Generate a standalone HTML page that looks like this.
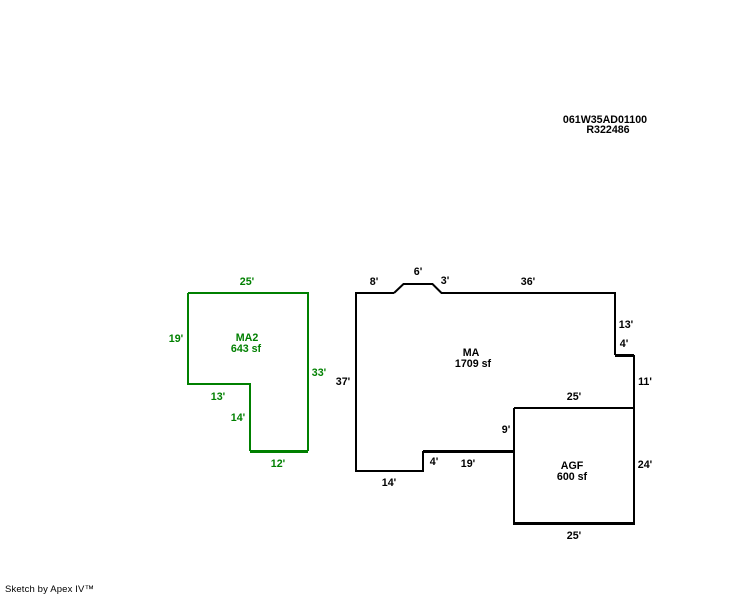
<!DOCTYPE html>
<html>
<head>
<meta charset="utf-8">
<style>
html,body{margin:0;padding:0;background:#fff;width:744px;height:595px;overflow:hidden}
svg{display:block}
text{font-family:"Liberation Sans",Arial,sans-serif;font-weight:bold;font-size:10.67px;text-anchor:middle}
.g text{fill:#008000}
.k text{fill:#000}
</style>
</head>
<body>
<svg width="744" height="595" viewBox="0 0 744 595" xmlns="http://www.w3.org/2000/svg">
<g fill="none" stroke="#008000" stroke-width="2" shape-rendering="crispEdges">
<path d="M188 293H308V451M250 451V384H188V293"/>
<path d="M250 451.5H308" stroke-width="3"/>
</g>
<g fill="none" stroke="#000" stroke-width="2">
<path d="M394 293H356V471H423V451" shape-rendering="crispEdges"/>
<path d="M394 293L403.500 284H432.500L441.500 293"/>
<path d="M441 293H615V355M634 355V523M514 408H634M514 408V523" shape-rendering="crispEdges"/>
<path d="M423 451.500H514M615 355.500H634M513 523.500H635" stroke-width="3" shape-rendering="crispEdges"/>
</g>
<g class="k">
<text x="605" y="123">061W35AD01100</text>
<text x="608" y="133">R322486</text>
<text x="374" y="285">8'</text>
<text x="418" y="275">6'</text>
<text x="445" y="284">3'</text>
<text x="528" y="285">36'</text>
<text x="626" y="328">13'</text>
<text x="624" y="347">4'</text>
<text x="645" y="385">11'</text>
<text x="343" y="385">37'</text>
<text x="471" y="356">MA</text>
<text x="473" y="367">1709 sf</text>
<text x="574" y="400">25'</text>
<text x="506" y="433">9'</text>
<text x="434" y="465">4'</text>
<text x="468" y="467">19'</text>
<text x="389" y="486">14'</text>
<text x="572" y="469">AGF</text>
<text x="572" y="480">600 sf</text>
<text x="645" y="468">24'</text>
<text x="574" y="539">25'</text>
</g>
<g class="g">
<text x="247" y="285">25'</text>
<text x="176" y="342">19'</text>
<text x="247" y="341">MA2</text>
<text x="246" y="352">643 sf</text>
<text x="319" y="376">33'</text>
<text x="218" y="400">13'</text>
<text x="238" y="421">14'</text>
<text x="278" y="467">12'</text>
</g>
<text x="5" y="592" style="font-weight:normal;font-size:9.500px;text-anchor:start" fill="#000" textLength="89" lengthAdjust="spacing">Sketch by Apex IV™</text>
</svg>
</body>
</html>
